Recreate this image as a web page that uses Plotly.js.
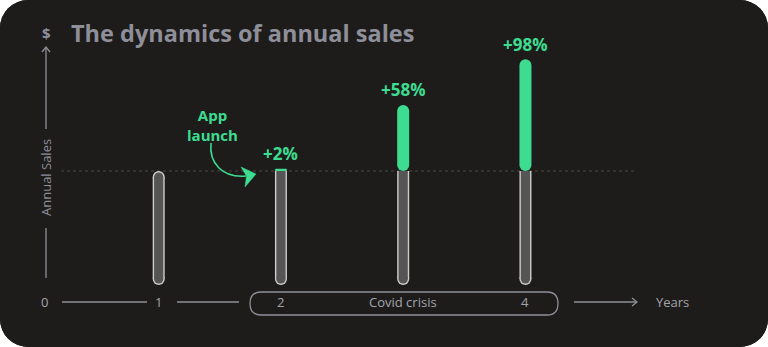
<!DOCTYPE html>
<html><head><meta charset="utf-8">
<script src="https://cdn.plot.ly/plotly-3.0.1.min.js"></script>
<style>
html,body{margin:0;padding:0;background:#ffffff;}
#chart{width:768px;height:347px;border-radius:28px;overflow:hidden;background:#1d1c1b;}
</style></head><body><div id="chart"></div>
<script>
// ---- data ----
const years = [1, 2, 3, 4];
const baseSales = [100, 100, 100, 100];      // previous-level sales (index)
const growthPct = [0, 2, 58, 98];            // growth on top of base, %
const growthLabels = ['', '+2%', '+58%', '+98%'];
const xTickVals = [1, 2, 4];
const xTickText = ['1', '2', '4'];
const bandLabel = 'Covid crisis';
const bandX = 3;
const noteText = 'App<br>launch';
const titleText = 'The dynamics of annual sales';

// ---- styles ----
const W = 768, H = 347;
const BG = '#1d1c1b', GRAY = '#555555', OUTLINE = '#cdcdcd', GREEN = '#3ddc91';
const AXC = '#8e8f99', TXT = '#a3a4ac';
const FONT = 'Open Sans, sans-serif';
const PXX = 122.25, PXY = 1.14;
const outerPx = 12, innerPx = 9.2;
const outerW = outerPx / PXX, innerW = innerPx / PXX;
const capY = (outerPx / 2) / PXY;            // cap radius in data units

const idxFirst = years.map((_, i) => i).filter(i => growthPct[i] === 0);
const pick = (arr, idx) => idx.map(i => arr[i]);
const idxRest = years.map((_, i) => i).filter(i => growthPct[i] > 0);
// gray body top: leave room for a round cap where there is no growth on top
const bodyTop = baseSales.map((v, i) => growthPct[i] > 0 ? v : v - capY);

function barTrace(x, base, y, width, color, r, yaxis) {
  return {type: 'bar', x: x, base: base, y: y, width: x.map(() => width),
    marker: {color: color, line: {width: 0}, cornerradius: r},
    xaxis: 'x', yaxis: yaxis, hoverinfo: 'skip', showlegend: false};
}
function capTrace(x, y, size, color, yaxis) {
  return {type: 'scatter', mode: 'markers', x: x, y: y,
    marker: {size: size, color: color, line: {width: 0}},
    xaxis: 'x', yaxis: yaxis, hoverinfo: 'skip', showlegend: false, cliponaxis: false};
}

const traces = [
  // outline layer (subplot y)
  barTrace(years, years.map(() => capY), bodyTop.map(v => v - capY), outerW, OUTLINE, 0, 'y'),
  capTrace(years, years.map(() => capY), outerPx, OUTLINE, 'y'),
  capTrace(pick(years, idxFirst), pick(bodyTop, idxFirst), outerPx, OUTLINE, 'y'),
  // growth + gray fill layer (subplot y2, drawn above)
  barTrace(pick(years, idxRest), pick(baseSales, idxRest), pick(growthPct, idxRest), outerW, GREEN, outerPx / 2, 'y2'),
  barTrace(years, years.map(() => capY), bodyTop.map(v => v - capY), innerW, GRAY, 0, 'y2'),
  capTrace(years, years.map(() => capY), innerPx, GRAY, 'y2'),
  capTrace(pick(years, idxFirst), pick(bodyTop, idxFirst), innerPx, GRAY, 'y2')
];

// pixel -> paper helpers for decorations
const PX = x => x / W, PY = y => 1 - y / H;
function pathPx(cmds) {
  return cmds.replace(/(-?\d+(\.\d+)?),(-?\d+(\.\d+)?)/g, (m, a, _b, c) =>
    (PX(+a)).toFixed(5) + ',' + (PY(+c)).toFixed(5));
}
const lineStyle = {color: AXC, width: 1.3};
function pShape(d, fill, line) {
  return {type: 'path', xref: 'paper', yref: 'paper', path: pathPx(d),
    fillcolor: fill || 'rgba(0,0,0,0)', line: line || lineStyle, layer: 'above'};
}

const shapes = [
  // dashed reference line at base level
  {type: 'line', xref: 'paper', yref: 'y', x0: PX(61), x1: PX(635), y0: baseSales[0], y1: baseSales[0],
    line: {color: '#4a4947', width: 1, dash: '3px,3px'}, layer: 'below'},
  // y axis arrow
  pShape('M 46,48 L 46,129'),
  pShape('M 42,52 L 46,47 L 50,52'),
  pShape('M 46,228 L 46,278'),
  // x axis segments
  pShape('M 62,302 L 147,302'),
  pShape('M 177,302 L 239,302'),
  pShape('M 574,302 L 637,302'),
  pShape('M 632,298 L 637,302 L 632,306'),
  // covid band pill
  pShape('M 261,292 L 547,292 Q 558,292 558,303.5 Q 558,315 547,315 L 261,315 Q 250,315 250,303.5 Q 250,292 261,292 Z'),
  // app launch curved arrow
  pShape('M 211,143 C 209,163 222,178 246,176', null, {color: GREEN, width: 1.6}),
  pShape('M 241,167 L 256,174 L 245,187 L 246.5,176 Z', GREEN, {color: GREEN, width: 0.5})
];

const annotations = [];
// growth labels
idxRest.forEach(i => annotations.push({
  xref: 'x', yref: 'y', x: years[i], y: baseSales[i] + growthPct[i], yshift: 15,
  text: '<b>' + growthLabels[i] + '</b>', showarrow: false,
  font: {family: FONT, size: 17, color: GREEN}, xanchor: 'center', yanchor: 'middle'}));
// x tick labels
xTickVals.forEach((v, k) => annotations.push({
  xref: 'x', yref: 'paper', x: v, y: PY(302), text: xTickText[k], showarrow: false,
  font: {family: FONT, size: 13, color: TXT}, xanchor: 'center', yanchor: 'middle'}));
annotations.push({xref: 'x', yref: 'paper', x: bandX, y: PY(302), text: bandLabel, showarrow: false,
  font: {family: FONT, size: 13, color: TXT}, xanchor: 'center', yanchor: 'middle'});
annotations.push({xref: 'paper', yref: 'paper', x: PX(44), y: PY(302), text: '0', showarrow: false,
  font: {family: FONT, size: 13, color: TXT}, xanchor: 'center', yanchor: 'middle'});
annotations.push({xref: 'paper', yref: 'paper', x: PX(672), y: PY(302), text: 'Years', showarrow: false,
  font: {family: FONT, size: 13, color: TXT}, xanchor: 'center', yanchor: 'middle'});
// y axis texts
annotations.push({xref: 'paper', yref: 'paper', x: PX(46), y: PY(33), text: '<b>$</b>', showarrow: false,
  font: {family: FONT, size: 15, color: AXC}, xanchor: 'center', yanchor: 'middle'});
annotations.push({xref: 'paper', yref: 'paper', x: PX(46), y: PY(178), text: 'Annual Sales', showarrow: false,
  textangle: -90, font: {family: FONT, size: 13, color: AXC}, xanchor: 'center', yanchor: 'middle'});
// note
annotations.push({xref: 'paper', yref: 'paper', x: PX(212), y: PY(125),
  text: '<b>' + noteText + '</b>', showarrow: false,
  font: {family: FONT, size: 15, color: GREEN}, xanchor: 'center', yanchor: 'middle'});

const yRange = [-54.39, 250];
const layout = {
  width: W, height: H,
  margin: {l: 0, r: 0, t: 0, b: 0},
  paper_bgcolor: BG, plot_bgcolor: BG,
  barmode: 'overlay',
  title: {text: '<b>' + titleText + '</b>', x: PX(71), xanchor: 'left', y: PY(34), yanchor: 'middle',
    font: {family: FONT, size: 23.5, color: AXC}},
  xaxis: {range: [-0.298, 5.984], visible: false, fixedrange: true},
  yaxis: {range: yRange, visible: false, fixedrange: true},
  yaxis2: {range: yRange, visible: false, fixedrange: true, overlaying: 'y'},
  shapes: shapes, annotations: annotations, showlegend: false
};

Plotly.newPlot('chart', traces, layout, {displayModeBar: false, staticPlot: true});
</script></body></html>
